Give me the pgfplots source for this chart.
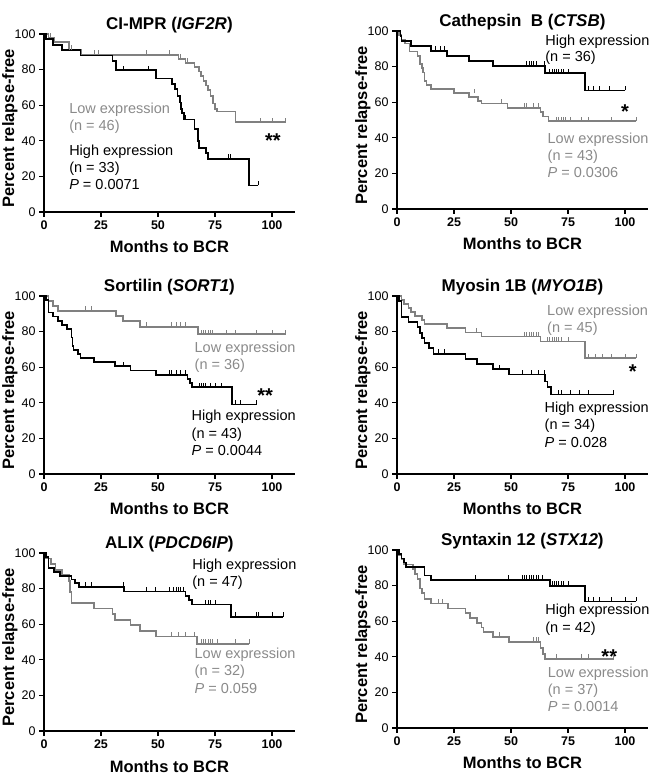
\documentclass[border=0pt]{standalone}
\usepackage{pgfplots}
\pgfplotsset{compat=1.18}
\usepackage{fontspec}
\setmainfont{Liberation Sans}
\definecolor{kmgrey}{RGB}{128,128,128}
\definecolor{txtgrey}{RGB}{138,138,138}
\pgfdeclareplotmark{cens}{\pgfpathmoveto{\pgfpointorigin}\pgfpathlineto{\pgfpoint{0pt}{4.5pt}}\pgfusepathqstroke}
\pgfplotsset{
  km/.style={
    scale only axis, width=250.8pt, height=178pt,
    xmin=0, xmax=110, ymin=0, ymax=100,
    axis x line*=bottom, axis y line*=left,
    axis line style={line width=1.5pt, black},
    xtick={0,25,50,75,100}, ytick={0,20,40,60,80,100},
    tick align=outside, major tick length=5pt,
    tick style={line width=1.3pt, black},
    /pgf/number format/assume math mode=true,
    xticklabel style={font=\bfseries\fontsize{12.5}{12}\selectfont},
    yticklabel style={font=\fontsize{12.5}{12}\selectfont},
    xlabel={Months to BCR}, ylabel={Percent relapse-free},
    every axis x label/.style={at={(axis description cs:0.5,0)}, anchor=base, yshift=-41pt, font=\bfseries\fontsize{16.5}{18}\selectfont},
    every axis y label/.style={at={(axis description cs:0,0.47)}, anchor=base, xshift=-30pt, rotate=90, font=\bfseries\fontsize{16.5}{18}\selectfont},
    every axis title/.style={at={(axis description cs:0.5,1)}, anchor=base, yshift=4pt, font=\bfseries\fontsize{17}{18}\selectfont},
    clip=false, anchor=south west,
  },
  lo/.style={const plot, color=kmgrey, line width=1.7pt, mark=none},
  hi/.style={const plot, color=black, line width=1.7pt, mark=none},
  locens/.style={only marks, mark=cens, color=kmgrey, mark options={line width=1pt}},
  hicens/.style={only marks, mark=cens, color=black, mark options={line width=1pt}},
}
\tikzset{
  ann/.style={anchor=base west, inner sep=0pt, font=\fontsize{14.5}{17}\selectfont},
  star/.style={anchor=base, inner sep=0pt, font=\bfseries\fontsize{20}{20}\selectfont},
}
\begin{document}
\begin{tikzpicture}[x=1pt,y=1pt]
% ---------------- Panel 1: CI-MPR
\begin{axis}[km, at={(44pt,564pt)}, title={CI-MPR (\textit{IGF2R})}]
\addplot[lo] coordinates {(0,100)(2,97.8)(4.5,95.5)(11,91.2)(16.5,88.2)(59,86)(62,83.8)(66,81.5)(68,79)(69,76.5)(70,73.5)(71,71)(72,68.5)(73,65)(74,61)(75,58)(76,56.5)(84,50.5)(106,50.5)};
\addplot[locens] coordinates {(3,97.8)(11,91.2)(12,91.2)(22,88.2)(24,88.2)(45,88.2)(55,88.2)(60,86)(63,83.8)(70,73.5)(95,50.5)(100,50.5)(106,50.5)};
\addplot[hi] coordinates {(0,100)(1,97)(4,93.9)(8,90.9)(16,87.9)(30,84.8)(31.5,79.7)(49,75)(56,72)(57.5,69)(58.5,65)(59.5,61.5)(60,58)(60.5,55.5)(61.5,52)(66,46.6)(67.5,40)(68,36)(71,33)(72,29.8)(90,14.9)(94,14.9)};
\addplot[hicens] coordinates {(35,79.7)(46,79.7)(62,52)(71,33)(81,29.8)(82,29.8)(94,14.9)};
\node[ann, txtgrey] at (axis cs:11,55.5) {Low expression};
\node[ann, txtgrey] at (axis cs:11,45.7) {(n = 46)};
\node[ann] at (axis cs:11,32) {High expression};
\node[ann] at (axis cs:11,22.2) {(n = 33)};
\node[ann] at (axis cs:11,12.4) {\textit{P} = 0.0071};
\node[star] at (axis cs:100.4,36) {**};
\end{axis}
% ---------------- Panel 2: Cathepsin B
\begin{axis}[km, at={(397pt,567pt)}, title={Cathepsin\ \ B (\textit{CTSB})}]
\addplot[lo] coordinates {(0,100)(1,97.7)(2,95.3)(3.5,93)(5.5,88.4)(9,86)(10,81.4)(11,79.1)(11.5,76.7)(12,72.1)(13,69.8)(15,67.4)(25,65.1)(31.5,62.8)(35.5,60.5)(37,59.3)(48.5,56.9)(63,54.5)(64,52)(66.5,49.4)(105,49.4)};
\addplot[locens] coordinates {(34,65.1)(46,59.3)(56,56.9)(57,56.9)(60,56.9)(62,56.9)(70,49.4)(71,49.4)(72,49.4)(73,49.4)(74,49.4)(76,49.4)(81,49.4)(84,49.4)(94,49.4)(105,49.4)};
\addplot[hi] coordinates {(0,100)(1.5,97.2)(2,94.4)(6,91.7)(15,88.9)(22,86.1)(31.5,83.2)(42,80.4)(65,76.3)(82.5,66.6)(100,66.6)};
\addplot[hicens] coordinates {(17,88.9)(19,88.9)(21,88.9)(57,80.4)(58,80.4)(59,80.4)(60,80.4)(61,80.4)(64.5,80.4)(67,76.3)(68,76.3)(69,76.3)(70,76.3)(71,76.3)(72,76.3)(73,76.3)(75,76.3)(84,66.6)(86,66.6)(89,66.6)(93,66.6)(100,66.6)};
\node[ann] at (axis cs:65,92) {High expression};
\node[ann] at (axis cs:65,83) {(n = 36)};
\node[star] at (axis cs:100,51) {*};
\node[ann, txtgrey] at (axis cs:66,37) {Low expression};
\node[ann, txtgrey] at (axis cs:66,27.2) {(n = 43)};
\node[ann, txtgrey] at (axis cs:66,17.5) {\textit{P} = 0.0306};
\end{axis}
% ---------------- Panel 3: Sortilin
\begin{axis}[km, at={(44pt,302pt)}, title={Sortilin (\textit{SORT1})}]
\addplot[lo] coordinates {(0,100)(2,97.2)(4,94.4)(6,91.7)(31.5,88.9)(34.5,85.9)(42,82.6)(67.5,78.6)(106,78.6)};
\addplot[locens] coordinates {(18,91.7)(21,91.7)(45,82.6)(56,82.6)(58,82.6)(60,82.6)(62,82.6)(69,78.6)(70,78.6)(71,78.6)(72,78.6)(73,78.6)(74,78.6)(80,78.6)(84,78.6)(93,78.6)(100,78.6)(106,78.6)};
\addplot[hi] coordinates {(0,100)(1,97.7)(2,90.7)(4,88.4)(6,86)(8,83.7)(10,81.4)(12,76.7)(12.5,72.1)(13,69.8)(15,67.4)(16,65.1)(22,62.8)(31,60.5)(38,58.2)(49,55.8)(63,53.3)(64,51)(65,48.7)(82.5,39)(93,39)};
\addplot[hicens] coordinates {(35,60.5)(55,55.8)(56,55.8)(58,55.8)(60,55.8)(62,55.8)(68,48.7)(69,48.7)(70,48.7)(71,48.7)(73,48.7)(75,48.7)(78,48.7)(84,39)(86,39)(93,39)};
\node[ann, txtgrey] at (axis cs:66,68.5) {Low expression};
\node[ann, txtgrey] at (axis cs:66,58.5) {(n = 36)};
\node[star] at (axis cs:97,40) {**};
\node[ann] at (axis cs:64.7,30) {High expression};
\node[ann] at (axis cs:64.7,20.1) {(n = 43)};
\node[ann] at (axis cs:64.7,10.4) {\textit{P} = 0.0044};
\end{axis}
% ---------------- Panel 4: Myosin 1B
\begin{axis}[km, at={(397pt,302pt)}, title={Myosin 1B (\textit{MYO1B})}]
\addplot[lo] coordinates {(0,100)(2,97.8)(3,95.6)(5,93.3)(6,91.1)(8,88.9)(11,86.7)(12,84.4)(22,82)(30,79.5)(37,77.2)(63,74.5)(82.5,65.1)(105,65.1)};
\addplot[locens] coordinates {(35,79.5)(56,77.2)(57,77.2)(58,77.2)(59,77.2)(60,77.2)(61,77.2)(62,77.2)(66,74.5)(67,74.5)(68,74.5)(69,74.5)(70,74.5)(71,74.5)(72,74.5)(75,74.5)(84,65.1)(87,65.1)(90,65.1)(94,65.1)(100,65.1)(105,65.1)};
\addplot[hi] coordinates {(0,100)(1,97.1)(2,88.2)(5,85.3)(9,82.4)(10,79.4)(11,76.5)(12,73.5)(14,70.6)(16,67.6)(30,64.7)(35,61.8)(42,58.8)(49,55.9)(65,52)(66,49)(67.5,44.6)(95,44.6)};
\addplot[hicens] coordinates {(18,67.6)(21,67.6)(45,58.8)(55,55.9)(59,55.9)(62,55.9)(64.5,55.9)(71,44.6)(72,44.6)(76,44.6)(80,44.6)(84,44.6)(95,44.6)};
\node[ann, txtgrey] at (axis cs:65.8,89) {Low expression};
\node[ann, txtgrey] at (axis cs:65.8,79.3) {(n = 45)};
\node[star] at (axis cs:103.4,53.5) {*};
\node[ann] at (axis cs:64.7,34.6) {High expression};
\node[ann] at (axis cs:64.7,24.9) {(n = 34)};
\node[ann] at (axis cs:64.7,15) {\textit{P} = 0.028};
\end{axis}
% ---------------- Panel 5: ALIX
\begin{axis}[km, at={(44pt,45pt)}, title={ALIX (\textit{PDCD6IP})}]
\addplot[lo] coordinates {(0,100)(1,96.9)(3,93.8)(5,90.6)(8,87.5)(11,84.4)(11.5,78.1)(12,71.9)(22,68.8)(30,65.6)(31,62.5)(38,59.4)(42,56.3)(49,53.1)(67,49)(90,49)};
\addplot[locens] coordinates {(56,53.1)(59,53.1)(62,53.1)(66,53.1)(69,49)(70,49)(71,49)(72,49)(73,49)(74,49)(76,49)(84,49)(90,49)};
\addplot[hi] coordinates {(0,100)(1,97.9)(2,91.5)(4.5,89.4)(7,87.2)(12,85.1)(13.5,83)(15.5,80.9)(35,78.4)(62,76)(63.5,73.5)(65,71.1)(82,64.2)(105,64.2)};
\addplot[hicens] coordinates {(18,80.9)(21,80.9)(35,80.9)(45,78.4)(49,78.4)(55,78.4)(57,78.4)(58,78.4)(59,78.4)(60,78.4)(61,78.4)(71,71.1)(72,71.1)(73,71.1)(75,71.1)(84,64.2)(93,64.2)(94,64.2)(100,64.2)(105,64.2)};
\node[ann] at (axis cs:65,91) {High expression};
\node[ann] at (axis cs:65,81.2) {(n = 47)};
\node[ann, txtgrey] at (axis cs:66,40.9) {Low expression};
\node[ann, txtgrey] at (axis cs:66,31) {(n = 32)};
\node[ann, txtgrey] at (axis cs:66,21.3) {\textit{P} = 0.059};
\end{axis}
% ---------------- Panel 6: Syntaxin 12
\begin{axis}[km, at={(397pt,48pt)}, title={Syntaxin 12 (\textit{STX12})}]
\addplot[lo] coordinates {(0,100)(1,97.3)(2,94.6)(3,91.9)(7,89.2)(8,86.5)(9,83.8)(10,78.4)(11,75.7)(12,72.6)(15,70)(22.5,67.2)(30,64.5)(32,61.8)(35,59)(37,56.5)(38,54)(42,51.3)(49,48.4)(63,45)(64,41.7)(65,38.8)(95,38.8)};
\addplot[locens] coordinates {(18,70)(20,70)(45,51.3)(60,48.4)(61,48.4)(62,48.4)(70,38.8)(81,38.8)(84,38.8)(95,38.8)};
\addplot[hi] coordinates {(0,100)(1,97.6)(2,95.2)(3,92.9)(4,90.5)(12,85.7)(15,83.3)(67,79.8)(82.5,71.1)(105,71.1)};
\addplot[hicens] coordinates {(34.5,83.3)(49,83.3)(55,83.3)(56,83.3)(57,83.3)(58,83.3)(59,83.3)(60,83.3)(61,83.3)(62,83.3)(64,83.3)(68,79.8)(69,79.8)(70,79.8)(71,79.8)(72,79.8)(73,79.8)(75,79.8)(84,71.1)(86,71.1)(89,71.1)(94,71.1)(100,71.1)(105,71.1)};
\node[ann] at (axis cs:65,63.5) {High expression};
\node[ann] at (axis cs:65,53.8) {(n = 42)};
\node[star] at (axis cs:93.1,36.5) {**};
\node[ann, txtgrey] at (axis cs:66.1,28.6) {Low expression};
\node[ann, txtgrey] at (axis cs:66.1,18.7) {(n = 37)};
\node[ann, txtgrey] at (axis cs:66.1,9.3) {\textit{P} = 0.0014};
\end{axis}
\pgfresetboundingbox
\useasboundingbox (0,0) rectangle (650,776);
\end{tikzpicture}
\end{document}
